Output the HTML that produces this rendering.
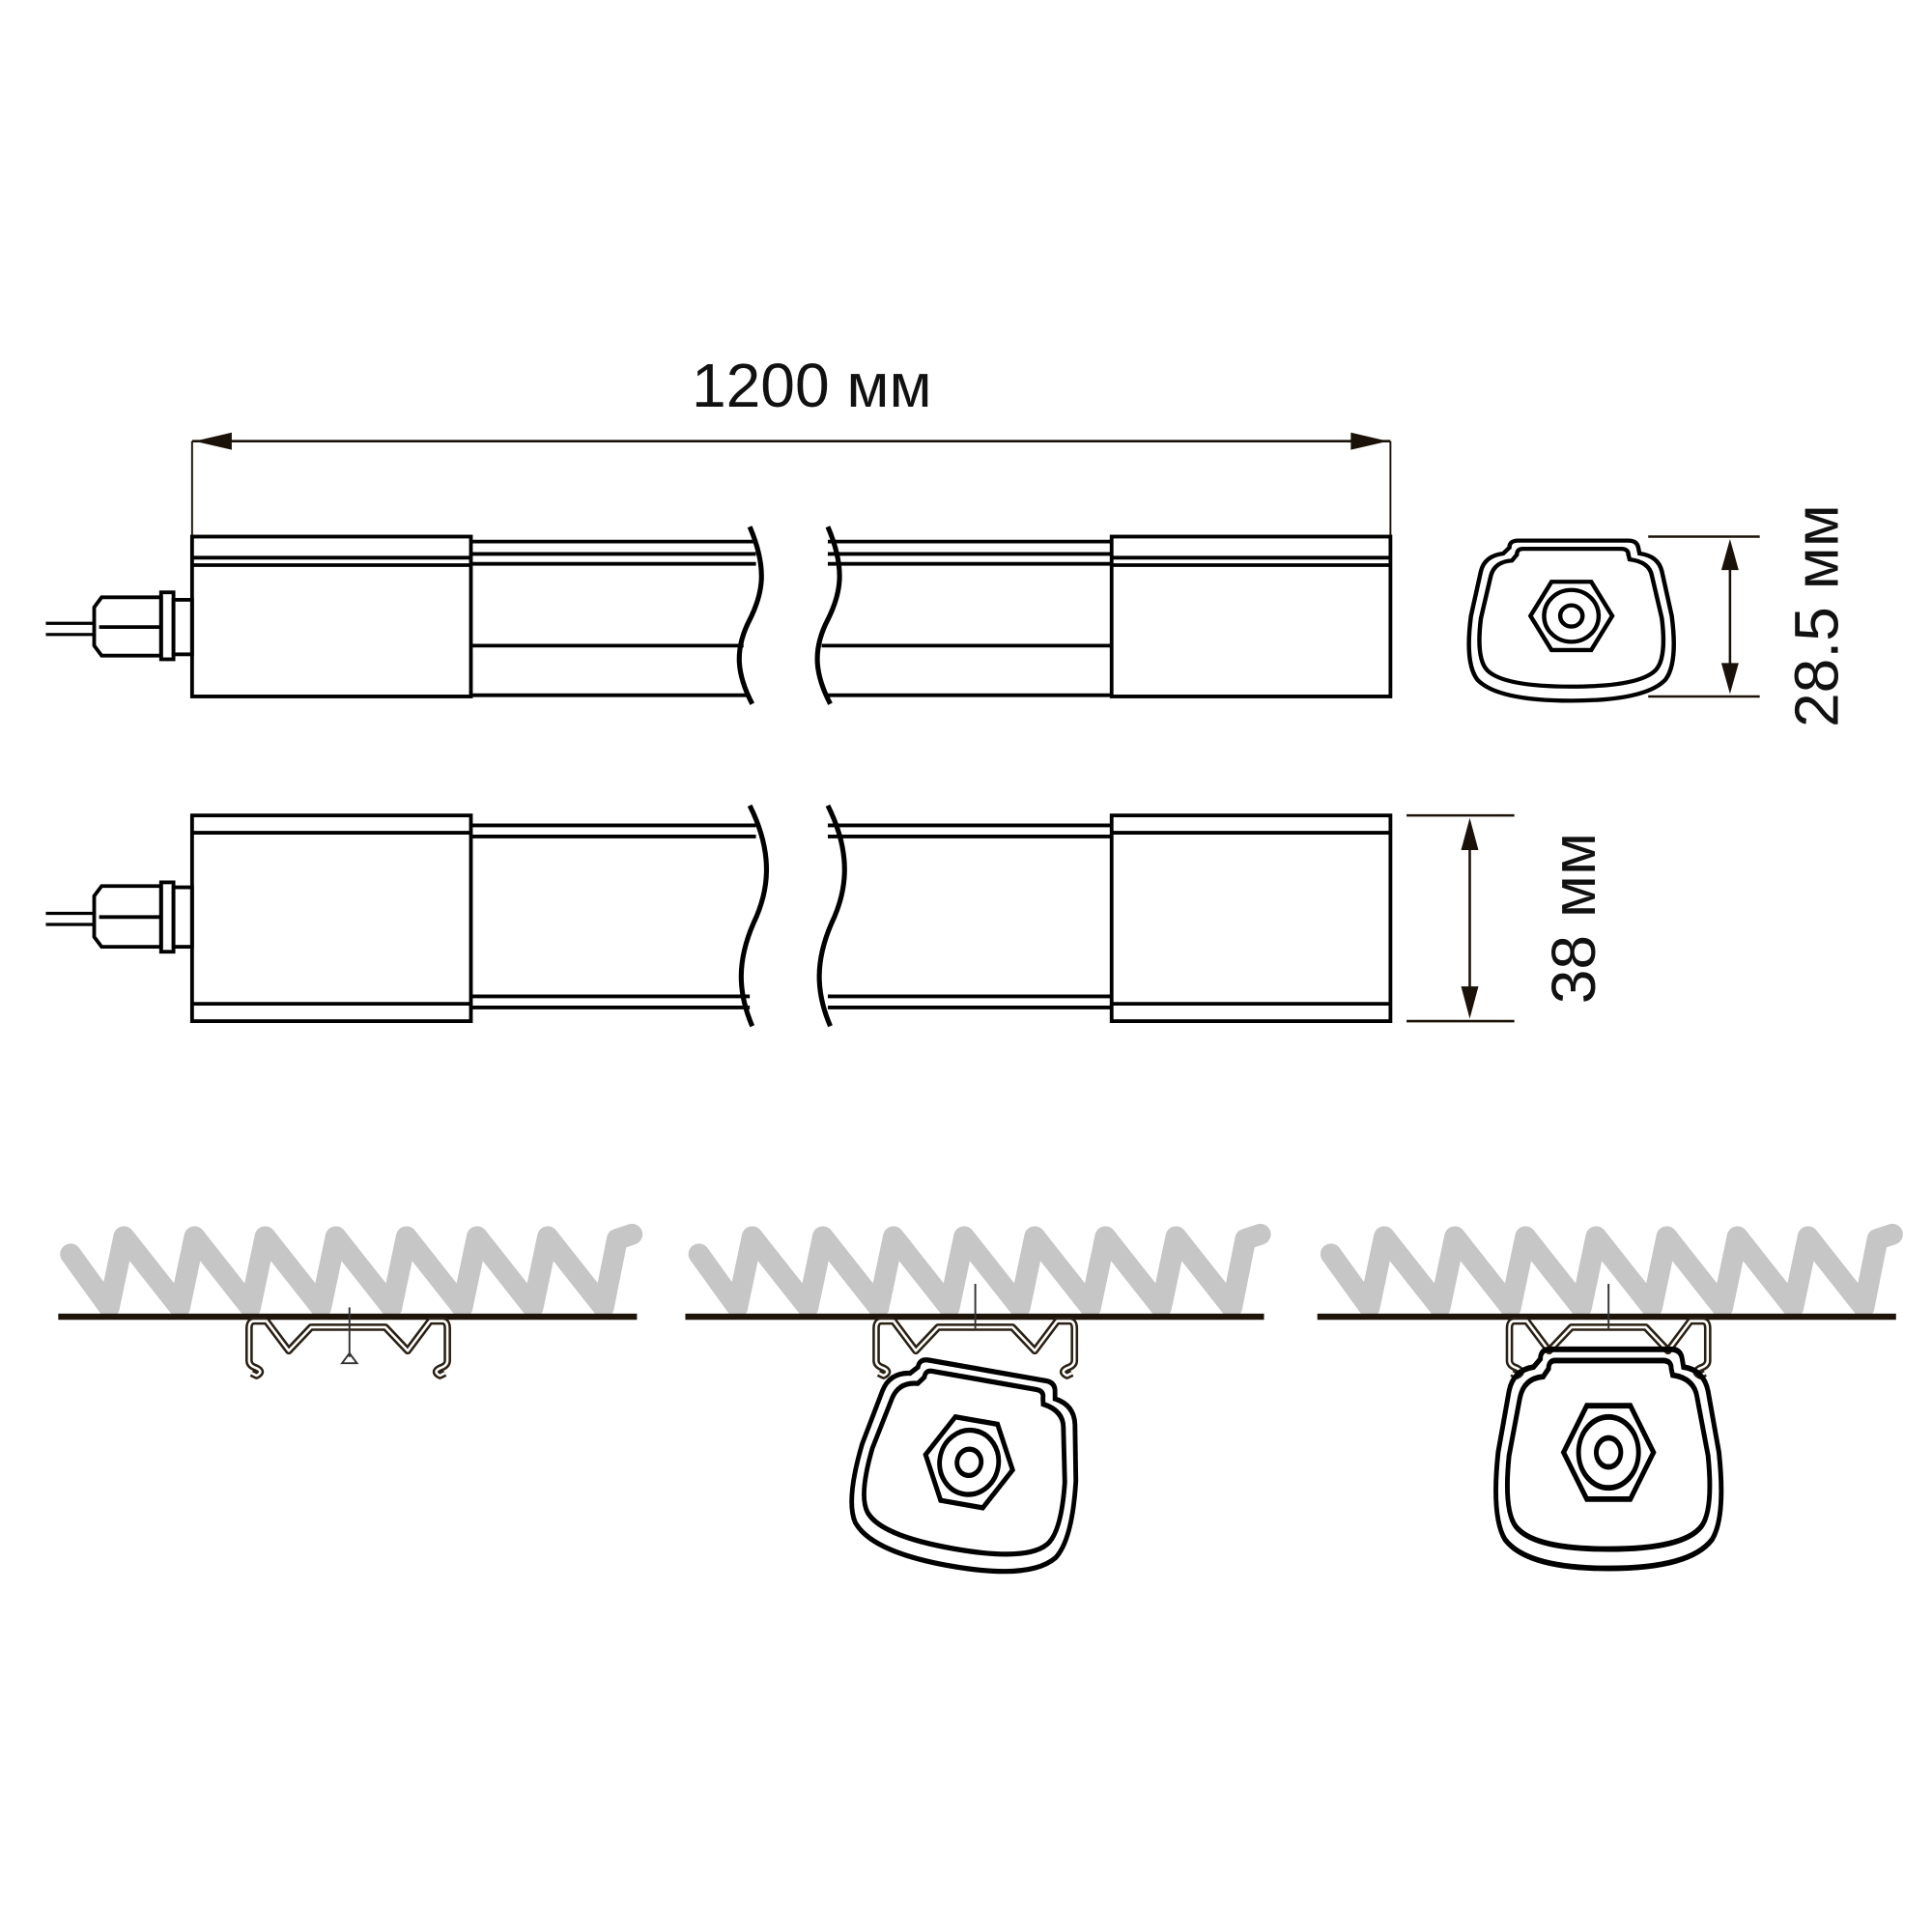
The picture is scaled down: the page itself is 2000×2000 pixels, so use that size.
<!DOCTYPE html>
<html><head><meta charset="utf-8"><style>
html,body{margin:0;padding:0;background:#fff;}
svg{display:block}
text{font-family:"Liberation Sans",sans-serif;fill:#111}
</style></head><body>
<svg width="2000" height="2000" viewBox="0 0 1559 1559" xmlns="http://www.w3.org/2000/svg">
<defs>
<g id="prof" fill="none" stroke="#000" stroke-width="3.5">
<path d="M-50,-58 Q-50,-64 -43,-64 L46,-64 Q53,-64 54,-58 L55,-53 Q70,-51 73,-38 L81,0 Q86,40 76,54 Q60,72 0,72 Q-60,72 -76,54 Q-86,40 -81,0 L-73,-38 Q-70,-51 -55,-53 Z"/>
<path d="M-44,-52 Q-44,-57 -39,-57 L40,-57 Q46,-57 46,-52 L47,-48 Q63,-46 65,-34 L73,2 Q77,36 68,46 Q55,60 0,60 Q-55,60 -68,46 Q-77,36 -73,2 L-65,-34 Q-62,-46 -48,-47 Z"/>
<polygon points="-33,0 -16,-29 16,-29 33,0 16,29 -16,29"/>
<circle r="22"/><circle r="9"/>
</g>
<path id="clipp" d="M-66,2 L-48,26 L-30,7 L30,7 L48,26 L66,2 L76,2 Q80,2 80,8 L80,34 Q80,38 74,40 Q68,43 74,46 L78,44 M-66,2 L-76,2 Q-80,2 -80,8 L-80,34 Q-80,38 -74,40 Q-68,43 -74,46 L-78,44"/>
<g id="clip">
<use href="#clipp" fill="none" stroke="#2a2014" stroke-width="6" stroke-linejoin="round"/>
<use href="#clipp" fill="none" stroke="#fff" stroke-width="2" stroke-linejoin="round"/>
</g>
<g id="hatch">
<path d="M57,1012 L88,1055 L100,998 L145,1055 L157,998 L202,1055 L214,998 L259,1055 L271,998 L316,1055 L328,998 L373,1055 L385,998 L430,1055 L442,998 L487,1055 L498,1000 L510,996" fill="none" stroke="#c7c6c6" stroke-width="17" stroke-linejoin="round" stroke-linecap="round"/>
</g>
</defs>

<text x="655" y="328" font-size="50" text-anchor="middle">1200 мм</text>
<line x1="155" y1="356" x2="1122" y2="356" stroke="#1a1208" stroke-width="2"/>
<polygon points="157,356 187,349 187,363" fill="#1a1208"/>
<polygon points="1120,356 1090,349 1090,363" fill="#1a1208"/>
<line x1="155" y1="356" x2="155" y2="433" stroke="#1a1208" stroke-width="1.5"/>
<line x1="1122" y1="356" x2="1122" y2="433" stroke="#1a1208" stroke-width="1.5"/>

<g fill="none" stroke="#000" stroke-width="3">
<rect x="155" y="433" width="225" height="129"/>
<rect x="897" y="433" width="225" height="129"/>
<line x1="155" y1="450" x2="380" y2="450"/><line x1="155" y1="456" x2="380" y2="456"/>
<line x1="897" y1="450" x2="1122" y2="450"/><line x1="897" y1="456" x2="1122" y2="456"/>
<path d="M380,437 H610 M380,447 H610 M380,455 H610 M380,521 H600 M380,561 H605"/>
<path d="M668,437 H897 M668,447 H897 M668,455 H897 M663,521 H897 M668,561 H897"/>
<path d="M605,425 C620,460 615,480 605,500 C592,525 595,545 607,568" stroke-width="4"/>
<path d="M668,425 C683,460 678,480 668,500 C655,525 658,545 670,568" stroke-width="4"/>
<path d="M37,503 H75 M37,512 H75" stroke-width="2.5"/>
<path d="M82,482 H130 V529 H82 L76,521 V490 Z"/>
<line x1="80" y1="506" x2="130" y2="506"/>
<rect x="130" y="478" width="10" height="54"/>
<rect x="140" y="484" width="15" height="44"/>
</g>

<g transform="translate(1268 497) scale(1.0,0.95)"><use href="#prof"/></g>
<g stroke="#1a1208" stroke-width="2">
<line x1="1330" y1="433" x2="1420" y2="433"/><line x1="1330" y1="562" x2="1420" y2="562"/>
<line x1="1396" y1="440" x2="1396" y2="556"/>
</g>
<polygon points="1396,435 1389,460 1403,460" fill="#1a1208"/>
<polygon points="1396,560 1389,535 1403,535" fill="#1a1208"/>
<text x="0" y="0" font-size="50" text-anchor="middle" transform="translate(1483 497) rotate(-90)">28.5 мм</text>

<g fill="none" stroke="#000" stroke-width="3">
<rect x="155" y="658" width="225" height="166"/>
<rect x="897" y="658" width="225" height="166"/>
<line x1="155" y1="672" x2="380" y2="672"/><line x1="155" y1="810" x2="380" y2="810"/>
<line x1="897" y1="672" x2="1122" y2="672"/><line x1="897" y1="810" x2="1122" y2="810"/>
<path d="M380,666 H610 M380,675 H610 M380,804 H605 M380,813 H605"/>
<path d="M668,666 H897 M668,675 H897 M668,804 H897 M668,813 H897"/>
<path d="M605,650 C625,690 620,720 608,745 C595,775 595,800 607,828" stroke-width="4"/>
<path d="M668,650 C688,690 683,720 671,745 C658,775 658,800 670,828" stroke-width="4"/>
<path d="M37,737 H75 M37,746 H75" stroke-width="2.5"/>
<path d="M82,715 H130 V764 H82 L76,756 V723 Z"/>
<line x1="80" y1="740" x2="130" y2="740"/>
<rect x="130" y="712" width="10" height="56"/>
<rect x="140" y="716" width="15" height="48"/>
</g>
<g stroke="#1a1208" stroke-width="2">
<line x1="1135" y1="658" x2="1222" y2="658"/><line x1="1135" y1="824" x2="1222" y2="824"/>
<line x1="1186" y1="665" x2="1186" y2="818"/>
</g>
<polygon points="1186,660 1179,686 1193,686" fill="#1a1208"/>
<polygon points="1186,822 1179,796 1193,796" fill="#1a1208"/>
<text x="0" y="0" font-size="50" text-anchor="middle" transform="translate(1287 741) rotate(-90)">38 мм</text>

<use href="#hatch"/>
<use href="#hatch" x="507"/>
<use href="#hatch" x="1017"/>
<g fill="#1e140a">
<rect x="47" y="1060" width="467" height="5"/>
<rect x="553" y="1060" width="467" height="5"/>
<rect x="1063" y="1060" width="467" height="5"/>
</g>
<use href="#clip" x="281" y="1064"/>
<g stroke="#333" stroke-width="1.5" fill="none">
<line x1="282" y1="1055" x2="282" y2="1095"/><path d="M276,1100 L282,1092 L288,1100 Z"/>
</g>
<use href="#clip" x="787" y="1064"/>
<line x1="787" y1="1036" x2="787" y2="1072" stroke="#333" stroke-width="1.5"/>
<use href="#clip" x="1298" y="1064"/>
<line x1="1298" y1="1036" x2="1298" y2="1072" stroke="#333" stroke-width="1.5"/>
<g transform="translate(782 1180) rotate(10) scale(1.08 1.18)"><use href="#prof"/></g>
<g transform="translate(1298 1172) scale(1.1 1.3)"><use href="#prof"/></g>
</svg>
</body></html>
